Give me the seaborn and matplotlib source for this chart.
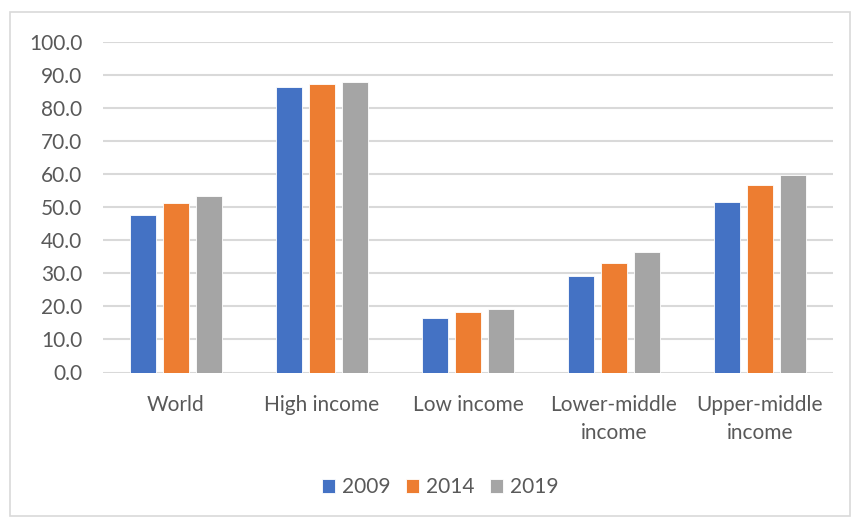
import matplotlib
matplotlib.use("Agg")
import matplotlib.pyplot as plt
import seaborn as sns
import pandas as pd
from matplotlib.patches import Rectangle

categories = ["World", "High income", "Low income", "Lower-middle\nincome", "Upper-middle\nincome"]
years = ["2009", "2014", "2019"]
values_2009 = [47.7, 86.2, 16.6, 29.1, 51.6]
values_2014 = [51.1, 87.1, 18.3, 33.1, 56.5]
values_2019 = [53.4, 87.8, 19.3, 36.5, 59.7]
colors = ["#4472C4", "#ED7D31", "#A5A5A5"]

rows = []
for yr, vals in zip(years, [values_2009, values_2014, values_2019]):
    for c, v in zip(categories, vals):
        rows.append({"category": c, "year": yr, "value": v})
df = pd.DataFrame(rows)

sns.set_theme(style="white")
plt.rcParams["font.family"] = ["Lato", "DejaVu Sans"]

W, H = 853, 518
fig = plt.figure(figsize=(W / 100, H / 100), dpi=100)
ax = fig.add_axes([103 / W, 1 - 372.5 / H, (833 - 103) / W, (372.5 - 41.5) / H])

sns.barplot(data=df, x="category", y="value", hue="year", order=categories,
            hue_order=years, palette=colors, width=0.675, gap=0.22,
            saturation=1, ax=ax, legend=True, edgecolor="white", linewidth=0.6)

ax.set_ylim(0, 100)
ax.set_yticks(range(0, 101, 10))
ax.set_yticklabels([f"{v:.1f}" for v in range(0, 101, 10)])
ax.set_xlim(-0.5, len(categories) - 0.5)
ax.yaxis.grid(True, color="#D9D9D9", linewidth=1.5)
ax.set_axisbelow(True)
for s in ax.spines.values():
    s.set_visible(False)
ax.tick_params(axis="both", length=0, colors="#595959", labelsize=15)
ax.tick_params(axis="y", pad=15)
ax.tick_params(axis="x", pad=16)
ax.set_xlabel("")
ax.set_ylabel("")
for lab in ax.get_xticklabels():
    lab.set_linespacing(1.5)

handles, labels = ax.get_legend_handles_labels()
ax.get_legend().remove()
fig.legend(handles, labels, loc="center", bbox_to_anchor=(440 / W, 1 - 487 / H),
           ncol=3, frameon=False, fontsize=15, handlelength=0.65, handleheight=0.65,
           handletextpad=0.3, columnspacing=0.75, labelcolor="#595959")

fig.patches.append(Rectangle((10 / W, 1 - 516 / H), (850 - 10) / W, (516 - 12) / H,
                             transform=fig.transFigure, fill=False,
                             edgecolor="#D9D9D9", linewidth=1.2))

fig.savefig("out.png", dpi=100)
